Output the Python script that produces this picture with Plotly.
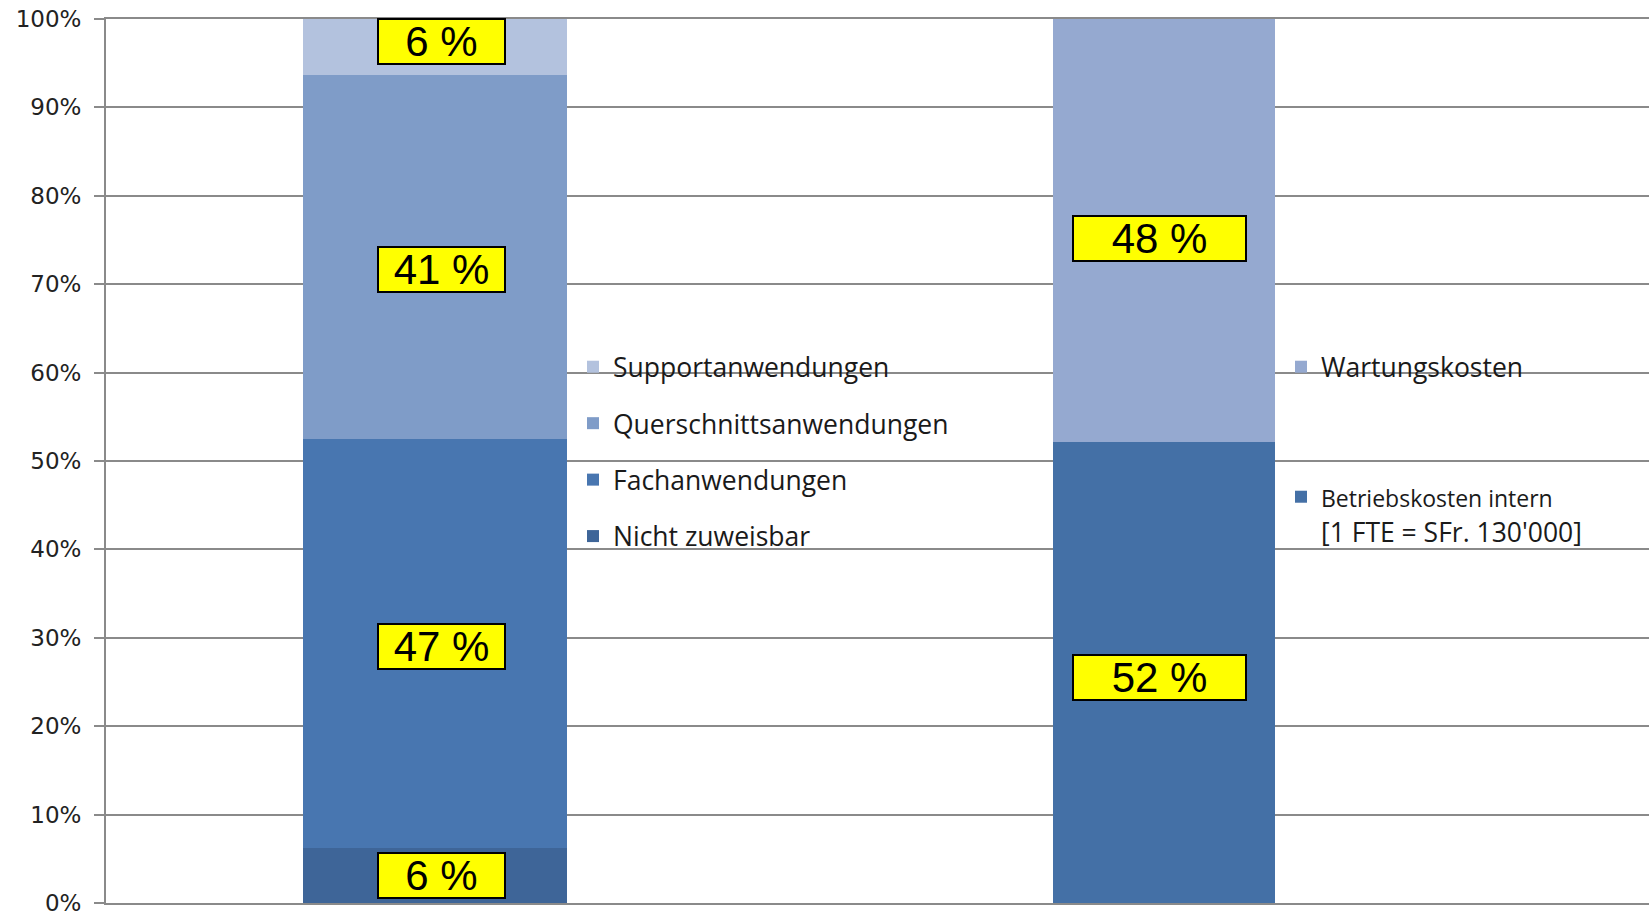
import plotly.graph_objects as go

# ---------------- data ----------------
left_series = ["Nicht zuweisbar", "Fachanwendungen", "Querschnittsanwendungen", "Supportanwendungen"]
left_values = [0.062, 0.463, 0.412, 0.063]
left_labels = ["6 %", "47 %", "41 %", "6 %"]
left_colors = ["#3E6598", "#4876B0", "#7F9CC8", "#B3C2DE"]

right_series = ["<span style='font-size:23px'>Betriebskosten intern</span><br>[1 FTE = SFr. 130'000]", "Wartungskosten"]
right_values = [0.522, 0.478]
right_labels = ["52 %", "48 %"]
right_colors = ["#4470A6", "#95A9D0"]

y_ticks = [i / 10 for i in range(11)]

# label nudges (pixels) to mimic the manually placed boxes
left_label_shift = [(6, 0), (6, -3), (6, -13), (6, 5)]
right_label_shift = [(-5, -5), (-5, -8)]

# ---------------- geometry (pixels) ----------------
W, H = 1649, 912
ML, MR, MT, MB = 106, 0, 19, 9
PW = W - ML - MR
PH = H - MT - MB

def px_x(px):
    return (px - ML) / PW

def px_y(py):
    return (H - MB - py) / PH

GRID = "#8A8A8A"
fig = go.Figure()

n_left = len(left_series)
cum = 0.0
for i, (name, v, lab, col) in enumerate(zip(left_series, left_values, left_labels, left_colors)):
    fig.add_trace(go.Bar(
        x=[0], y=[v], name=name, width=[0.362], marker=dict(color=col, line=dict(width=0)),
        legend="legend", legendgroup=f"l{i}", legendrank=n_left - i, hoverinfo="skip",
    ))
    dx, dy = left_label_shift[i]
    fig.add_annotation(
        x=0, y=cum + v / 2, xref="x", yref="y", text=lab, showarrow=False,
        xshift=dx, yshift=dy,
        font=dict(family="Liberation Sans, Arial", size=42, color="black"),
        bgcolor="#FFFF00", bordercolor="black", borderwidth=2, borderpad=0,
        width=125, height=43, xanchor="center", yanchor="middle",
    )
    cum += v

cum = 0.0
for i, (name, v, lab, col) in enumerate(zip(right_series, right_values, right_labels, right_colors)):
    fig.add_trace(go.Bar(
        x=[1], y=[v], name=name, width=[0.3045], marker=dict(color=col, line=dict(width=0)),
        legend="legend3" if i == 0 else "legend2", hoverinfo="skip",
    ))
    dx, dy = right_label_shift[i]
    fig.add_annotation(
        x=1, y=cum + v / 2, xref="x", yref="y", text=lab, showarrow=False,
        xshift=dx, yshift=dy,
        font=dict(family="Liberation Sans, Arial", size=42, color="black"),
        bgcolor="#FFFF00", bordercolor="black", borderwidth=2, borderpad=0,
        width=171, height=43, xanchor="center", yanchor="middle",
    )
    cum += v

legend_font = dict(family="Open Sans", size=26.5, color="#1A1A1A")

# white cover boxes behind legends (hide gridlines)
for x0, x1 in [(567, 961), (1275, 1610)]:
    fig.add_shape(type="rect", xref="paper", yref="paper",
                  x0=px_x(x0), x1=px_x(x1), y0=px_y(575), y1=px_y(335),
                  fillcolor="white", line=dict(width=0), layer="between")

fig.update_layout(
    width=W, height=H,
    margin=dict(l=ML, r=MR, t=MT, b=MB, pad=0, autoexpand=False),
    paper_bgcolor="white", plot_bgcolor="white",
    barmode="stack", bargap=0,
    showlegend=True,
    legend=dict(x=px_x(573), y=px_y(343), xanchor="left", yanchor="top",
                traceorder="grouped", tracegroupgap=19,
                font=legend_font, bgcolor="rgba(0,0,0,0)", borderwidth=0),
    legend2=dict(x=px_x(1281), y=px_y(343), xanchor="left", yanchor="top",
                 font=legend_font, bgcolor="rgba(0,0,0,0)", borderwidth=0),
    legend3=dict(x=px_x(1281), y=px_y(473), xanchor="left", yanchor="top",
                 font=dict(family="Open Sans", size=26.5, color="#1A1A1A"), valign="top",
                 bgcolor="rgba(0,0,0,0)", borderwidth=0),
    xaxis=dict(range=[-0.4513, 1.6653], showticklabels=False, ticks="",
               showgrid=False, zeroline=False, showline=True, mirror=True,
               linecolor=GRID, linewidth=2, fixedrange=True),
    yaxis=dict(range=[0, 1], tickvals=y_ticks, tickformat=".0%",
               showgrid=True, gridcolor=GRID, gridwidth=2,
               zeroline=False, showline=True, linecolor=GRID, linewidth=2,
               ticks="outside", ticklen=10, tickwidth=2, tickcolor=GRID,
               ticklabelstandoff=8, ticklabeloverflow="allow", automargin=False,
               tickfont=dict(family="DejaVu Sans", size=23, color="#222222"),
               fixedrange=True),
)

fig.write_html("out.html", config={"displayModeBar": False},
               post_script="document.body.style.margin='0';document.body.style.overflow='hidden';")
